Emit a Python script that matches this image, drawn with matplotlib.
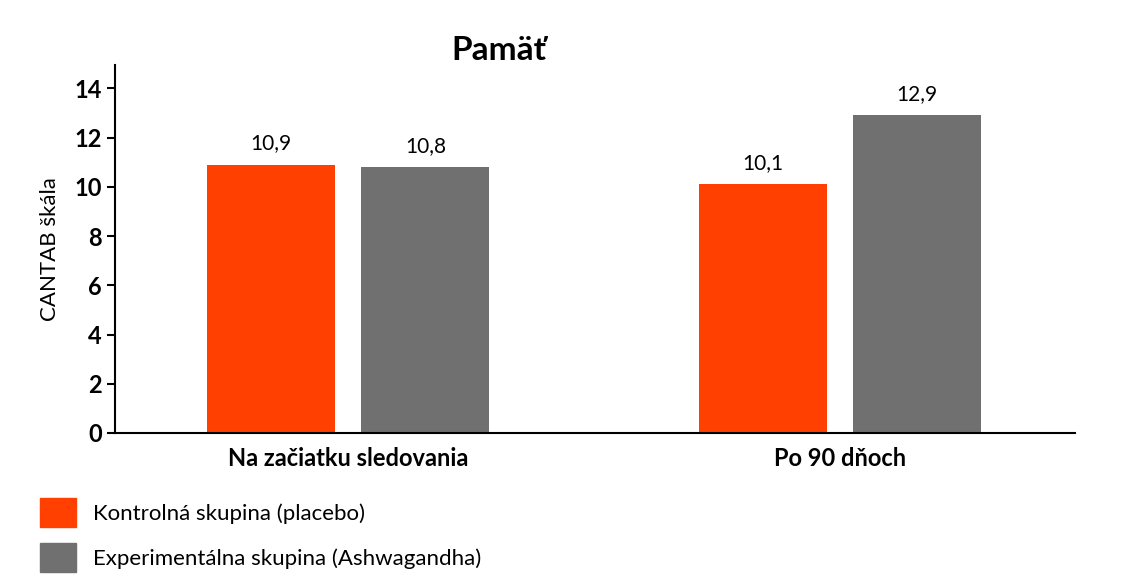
import matplotlib

matplotlib.use("Agg")
import matplotlib.pyplot as plt
from matplotlib.patches import Patch

# --- Data -----------------------------------------------------------------------------------
categories = ["Na začiatku sledovania", "Po 90 dňoch"]
placebo = [10.9, 10.1]
ashwagandha = [10.8, 12.9]
series_labels = ["Kontrolná skupina (placebo)", "Experimentálna skupina (Ashwagandha)"]
yticks = [0, 2, 4, 6, 8, 10, 12, 14]

COLORS = ["#FF4000", "#707070"]
FONT = ["Lato", "DejaVu Sans"]
plt.rcParams["font.family"] = FONT

fig = plt.figure(figsize=(11.24, 5.88), dpi=100)
ax = fig.add_axes([115 / 1124, 1 - 433 / 588, 960 / 1124, 368 / 588])

x = list(range(len(categories)))
width = 0.26
offset = 0.157
for vals, dx, color in ((placebo, -offset, COLORS[0]), (ashwagandha, offset, COLORS[1])):
    bars = ax.bar([xi + dx for xi in x], vals, width=width, color=color)
    for rect, v in zip(bars, vals):
        ax.annotate(f"{v:.1f}".replace(".", ","),
                    xy=(rect.get_x() + rect.get_width() / 2, v),
                    xytext=(0, 8), textcoords="offset points",
                    ha="center", va="bottom", fontsize=15)

ax.set_xlim(-0.474, 1.478)
ax.set_ylim(0, 14.95)
ax.set_yticks(yticks)
ax.set_yticklabels([str(t) for t in yticks], fontsize=17, fontweight="bold")
ax.set_xticks(x)
ax.set_xticklabels(categories, fontsize=17, fontweight="bold")
ax.tick_params(axis="x", length=0, pad=10)
ax.tick_params(axis="y", length=6, width=1.5)
ax.set_ylabel("CANTAB škála", fontsize=16, labelpad=10)
for s in ("top", "right"):
    ax.spines[s].set_visible(False)
for s in ("left", "bottom"):
    ax.spines[s].set_linewidth(1.5)

fig.text(115 / 1124 + 960 / 1124 * 0.4, 1 - 50 / 588, "Pamäť", ha="center", va="center",
         fontsize=24, fontweight="bold")

handles = [Patch(color=c, label=l) for c, l in zip(COLORS, series_labels)]
fig.legend(handles=handles, loc="upper left", bbox_to_anchor=(20 / 1124, 1 - 478 / 588),
           frameon=False, fontsize=16, handlelength=1.6, handleheight=1.6,
           labelspacing=0.75, handletextpad=0.8)

fig.savefig("out.png", dpi=100)
